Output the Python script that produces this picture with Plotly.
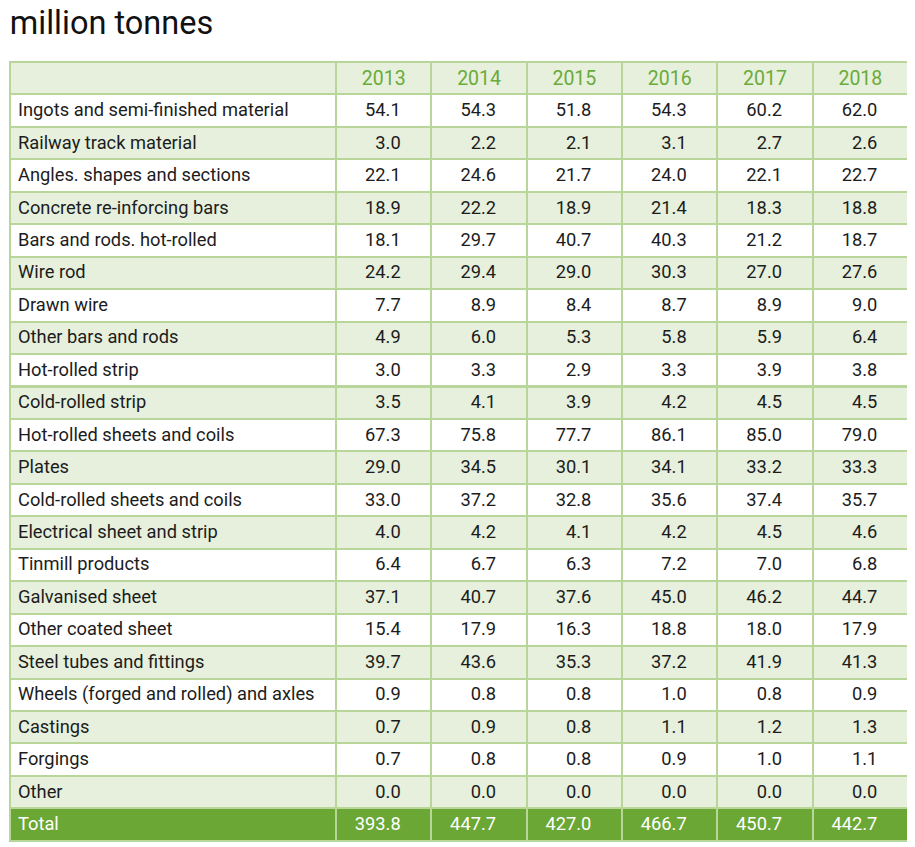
import plotly.graph_objects as go

title_text = "million tonnes"
years = ["2013", "2014", "2015", "2016", "2017", "2018"]
products = [
    "Ingots and semi-finished material",
    "Railway track material",
    "Angles. shapes and sections",
    "Concrete re-inforcing bars",
    "Bars and rods. hot-rolled",
    "Wire rod",
    "Drawn wire",
    "Other bars and rods",
    "Hot-rolled strip",
    "Cold-rolled strip",
    "Hot-rolled sheets and coils",
    "Plates",
    "Cold-rolled sheets and coils",
    "Electrical sheet and strip",
    "Tinmill products",
    "Galvanised sheet",
    "Other coated sheet",
    "Steel tubes and fittings",
    "Wheels (forged and rolled) and axles",
    "Castings",
    "Forgings",
    "Other",
]
v2013 = [54.1, 3.0, 22.1, 18.9, 18.1, 24.2, 7.7, 4.9, 3.0, 3.5, 67.3, 29.0, 33.0, 4.0, 6.4, 37.1, 15.4, 39.7, 0.9, 0.7, 0.7, 0.0]
v2014 = [54.3, 2.2, 24.6, 22.2, 29.7, 29.4, 8.9, 6.0, 3.3, 4.1, 75.8, 34.5, 37.2, 4.2, 6.7, 40.7, 17.9, 43.6, 0.8, 0.9, 0.8, 0.0]
v2015 = [51.8, 2.1, 21.7, 18.9, 40.7, 29.0, 8.4, 5.3, 2.9, 3.9, 77.7, 30.1, 32.8, 4.1, 6.3, 37.6, 16.3, 35.3, 0.8, 0.8, 0.8, 0.0]
v2016 = [54.3, 3.1, 24.0, 21.4, 40.3, 30.3, 8.7, 5.8, 3.3, 4.2, 86.1, 34.1, 35.6, 4.2, 7.2, 45.0, 18.8, 37.2, 1.0, 1.1, 0.9, 0.0]
v2017 = [60.2, 2.7, 22.1, 18.3, 21.2, 27.0, 8.9, 5.9, 3.9, 4.5, 85.0, 33.2, 37.4, 4.5, 7.0, 46.2, 18.0, 41.9, 0.8, 1.2, 1.0, 0.0]
v2018 = [62.0, 2.6, 22.7, 18.8, 18.7, 27.6, 9.0, 6.4, 3.8, 4.5, 79.0, 33.3, 35.7, 4.6, 6.8, 44.7, 17.9, 41.3, 0.9, 1.3, 1.1, 0.0]
total_label = "Total"
totals = [393.8, 447.7, 427.0, 466.7, 450.7, 442.7]

series = [v2013, v2014, v2015, v2016, v2017, v2018]

FONT = "Roboto, Liberation Sans, Arial, sans-serif"
GREEN = "#6aa734"
LIGHT = "#e6f0dc"
LINE = "#b8d69a"
TEXT = "#1c1c1c"
PAD = "\u00a0" * 5
NB = "\u00a0"

n = len(products)
row_fill = [("white" if i % 2 == 0 else LIGHT) for i in range(n)] + [GREEN]
row_font = [TEXT] * n + ["white"]

label_col = [p.replace(" ", NB) for p in products] + [total_label]
value_cols = []
for s, t in zip(series, totals):
    value_cols.append([f"{v:.1f}{PAD}" for v in s] + [f"{t:.1f}{PAD}"])

ROW_H = 32.45

fig = go.Figure(
    go.Table(
        columnwidth=[326] + [95.3] * 6,
        header=dict(
            values=[""] + years,
            fill_color=LIGHT,
            line=dict(color=LINE, width=2),
            align="center",
            font=dict(family=FONT, size=19.5, color="#6aab3a"),
            height=ROW_H,
        ),
        cells=dict(
            values=[label_col] + value_cols,
            fill_color=[row_fill],
            line=dict(color=LINE, width=2),
            align=["left"] + ["right"] * 6,
            font=dict(family=FONT, size=18.3, color=[row_font]),
            height=ROW_H,
        ),
    )
)

fig.update_layout(
    width=907,
    height=839,
    margin=dict(l=2, r=7, t=54, b=4),
    paper_bgcolor="white",
    title=dict(
        text=title_text,
        x=0.002,
        xanchor="left",
        y=0.9826,
        yanchor="middle",
        font=dict(family=FONT, size=32.5, color="#111111"),
    ),
)

fig.write_html("out.html")
